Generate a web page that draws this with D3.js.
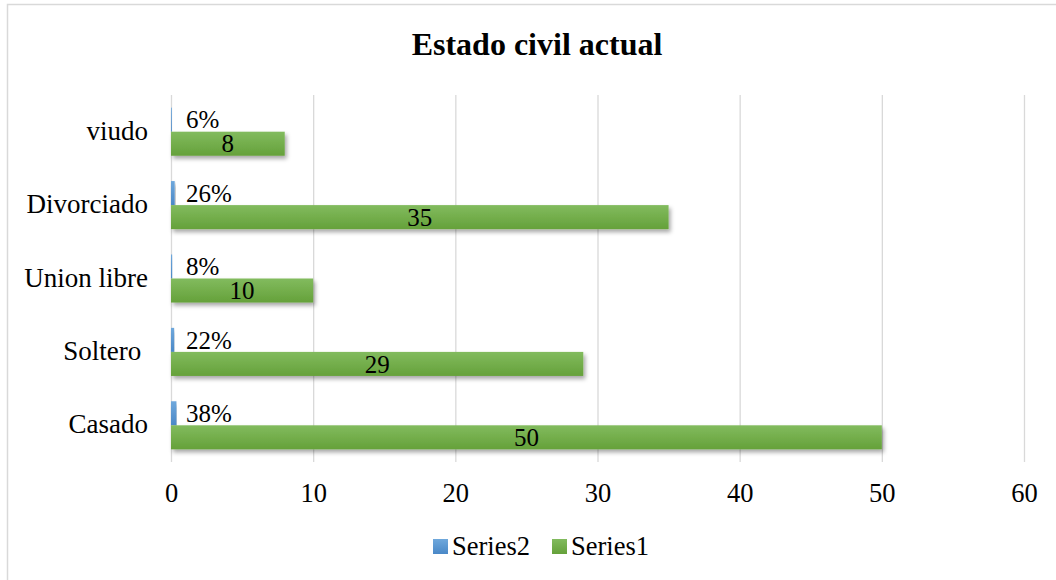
<!DOCTYPE html>
<html><head><meta charset="utf-8">
<script src="https://cdn.jsdelivr.net/npm/d3@7"></script>
<style>
html,body{margin:0;padding:0;background:#fff;}
text{font-family:"Liberation Serif","Times New Roman",serif;fill:#000;}
</style></head>
<body>
<svg id="chart" width="1056" height="580"></svg>
<script>
const categories = ["viudo", "Divorciado", "Union libre", "Soltero ", "Casado"];
const series1 = [8, 35, 10, 29, 50];
const series2 = [0.06, 0.26, 0.08, 0.22, 0.38];
const xTicks = [0, 10, 20, 30, 40, 50, 60];
const seriesNames = ["Series2", "Series1"];
const chartTitle = "Estado civil actual";

const svg = d3.select("#chart");
const defs = svg.append("defs");
const gG = defs.append("linearGradient").attr("id","gGreen").attr("x1",0).attr("y1",0).attr("x2",0).attr("y2",1);
gG.append("stop").attr("offset","0%").attr("stop-color","#82bb5e");
gG.append("stop").attr("offset","100%").attr("stop-color","#65a13a");
const gB = defs.append("linearGradient").attr("id","gBlue").attr("x1",0).attr("y1",0).attr("x2",0).attr("y2",1);
gB.append("stop").attr("offset","0%").attr("stop-color","#6fa8dc");
gB.append("stop").attr("offset","100%").attr("stop-color","#4a88c7");
const f = defs.append("filter").attr("id","shadow").attr("x","-5%").attr("y","-20%").attr("width","115%").attr("height","160%");
f.append("feDropShadow").attr("dx",2).attr("dy",3).attr("stdDeviation",2).attr("flood-color","#000").attr("flood-opacity",0.35);

// outer border
svg.append("rect").attr("x",7.5).attr("y",4.5).attr("width",1070).attr("height",600)
  .attr("fill","none").attr("stroke","#d9d9d9").attr("stroke-width",1.5);

const pLeft = 171, pRight = 1024, pTop = 95, pBottom = 462;
const x = d3.scaleLinear().domain([0, 60]).range([pLeft, pRight]);
const y = d3.scaleBand().domain(categories).range([pTop, pBottom]).paddingInner(0.345).paddingOuter(0.1725);
const yS = d3.scaleBand().domain(seriesNames).range([0, y.bandwidth()]);

// title
svg.append("text").attr("x", 537).attr("y", 55).attr("text-anchor","middle")
  .style("font-size","32px").style("font-weight","bold").text(chartTitle);

// gridlines
svg.append("g").selectAll("line").data(xTicks).join("line")
  .attr("x1", d => x(d)+0.5).attr("x2", d => x(d)+0.5)
  .attr("y1", pTop).attr("y2", pBottom)
  .attr("stroke","#d9d9d9").attr("stroke-width",1.3);

// x axis labels
const xAxis = d3.axisBottom(x).tickValues(xTicks).tickSize(0).tickPadding(0);
const gx = svg.append("g").attr("transform",`translate(0,${pBottom})`).call(xAxis);
gx.select(".domain").remove();
gx.selectAll("text").attr("y", 40).attr("dy",0).style("font-size","26.5px")
  .style("font-family","'Liberation Serif','Times New Roman',serif").attr("fill","#000");

// y axis labels
const yAxis = d3.axisLeft(y).tickSize(0).tickPadding(0);
const gy = svg.append("g").attr("transform",`translate(148,0)`).call(yAxis);
gy.select(".domain").remove();
gy.selectAll("text").attr("x", 0).attr("dy","0.3em").style("font-size","27px")
  .style("white-space","pre")
  .style("font-family","'Liberation Serif','Times New Roman',serif").attr("fill","#000");

// bars
const bars = svg.append("g");
categories.forEach((c, i) => {
  const yb = y(c);
  bars.append("rect").attr("x", x(0)).attr("y", yb + yS("Series2"))
    .attr("width", Math.max(0.8, x(series2[i]) - x(0))).attr("height", yS.bandwidth())
    .attr("fill","url(#gBlue)").attr("filter","url(#shadow)");
  bars.append("rect").attr("x", x(0)).attr("y", yb + yS("Series1"))
    .attr("width", x(series1[i]) - x(0)).attr("height", yS.bandwidth())
    .attr("fill","url(#gGreen)").attr("filter","url(#shadow)");
  svg.append("text").attr("x", x(0) + 15).attr("y", yb + yS("Series2") + yS.bandwidth()/2)
    .attr("dy","0.35em").style("font-size","25px").text(Math.round(series2[i]*100) + "%");
  svg.append("text").attr("x", (x(0) + x(series1[i]))/2).attr("y", yb + yS("Series1") + yS.bandwidth()/2)
    .attr("dy","0.35em").attr("text-anchor","middle").style("font-size","25px").text(series1[i]);
});

// legend
const lg = svg.append("g");
const legendItems = [
  {name: seriesNames[0], fill: "url(#gBlue)", x: 433},
  {name: seriesNames[1], fill: "url(#gGreen)", x: 552}
];
legendItems.forEach(it => {
  lg.append("rect").attr("x", it.x).attr("y", 539).attr("width", 15).attr("height", 15).attr("fill", it.fill);
  lg.append("text").attr("x", it.x + 19).attr("y", 555).style("font-size","26.5px").text(it.name);
});
</script>
</body></html>
